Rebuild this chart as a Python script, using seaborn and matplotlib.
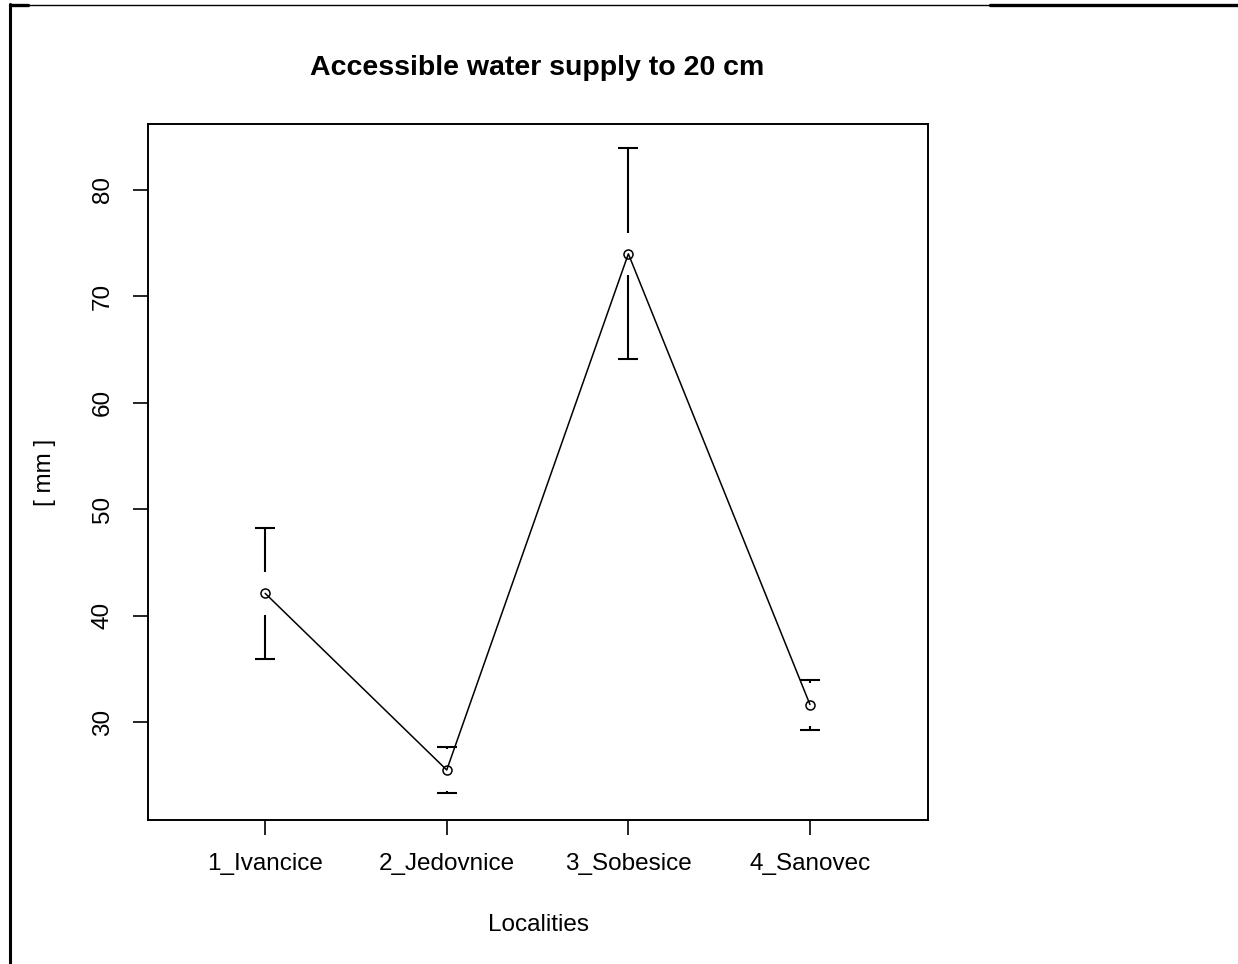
import pandas as pd
import matplotlib
matplotlib.use("Agg")
import matplotlib.pyplot as plt
from matplotlib.lines import Line2D
import seaborn as sns

# values
localities = ["1_Ivancice", "2_Jedovnice", "3_Sobesice", "4_Sanovec"]
means = [42.1, 25.5, 74.0, 31.65]
ci_half = [6.15, 2.15, 9.9, 2.35]

sns.set_style("ticks")
plt.rcParams['font.family'] = ['Liberation Sans', 'DejaVu Sans']
plt.rcParams['text.color'] = 'black'
plt.rcParams['axes.labelcolor'] = 'black'
plt.rcParams['xtick.color'] = 'black'
plt.rcParams['ytick.color'] = 'black'
plt.rcParams['axes.edgecolor'] = 'black'

df = pd.DataFrame({"pos": range(1, len(localities) + 1), "mean": means, "ci": ci_half})

fig = plt.figure(figsize=(12.38, 9.64), dpi=100)
ax = fig.add_axes([148 / 1238, 1 - 820 / 964, 780 / 1238, 696 / 964])

sns.lineplot(data=df, x="pos", y="mean", color="black", linewidth=1.1,
             marker="o", markersize=6.5, markerfacecolor="none",
             markeredgecolor="black", markeredgewidth=1.1, ax=ax)

# error bars with a gap around the mean point (as R's plotmeans)
gap = 2.0
cap = 0.055
for _, r in df.iterrows():
    up, lo = r["mean"] + r["ci"], r["mean"] - r["ci"]
    if r["ci"] > gap:
        ax.vlines(r["pos"], r["mean"] + gap, up, color="black", linewidth=1.5)
        ax.vlines(r["pos"], lo, r["mean"] - gap, color="black", linewidth=1.5)
    ax.hlines([up, lo], r["pos"] - cap, r["pos"] + cap, color="black", linewidth=1.5)

ax.set_xlim(0.355, 4.65)
ax.set_ylim(20.8, 86.2)
ax.set_xticks(df["pos"], localities)
ax.set_yticks([30, 40, 50, 60, 70, 80])
ax.tick_params(axis="y", labelrotation=90, length=10.5, width=1.2, labelsize=17.5, pad=14)
ax.tick_params(axis="x", length=10.5, width=1.2, labelsize=17.5, pad=13)
for lab in ax.get_yticklabels():
    lab.set_va("center")
for s in ax.spines.values():
    s.set_linewidth(1.4)
    s.set_visible(True)

ax.set_xlabel("Localities", fontsize=17.5, labelpad=28)
ax.set_ylabel("[ mm ]", fontsize=17.5, labelpad=26)
fig.text(537 / 1238, 1 - 68 / 964, "Accessible water supply to 20 cm",
         ha="center", va="center", fontsize=20.5, fontweight="bold")

# frame lines from the page the chart was cut from
fig.add_artist(Line2D([10 / 1238, 10 / 1238], [0, 1 - 4 / 964], color="black", linewidth=2.2))
fig.add_artist(Line2D([10 / 1238, 990 / 1238], [1 - 4.5 / 964] * 2, color="black", linewidth=1.0))
fig.add_artist(Line2D([990 / 1238, 1], [1 - 5 / 964] * 2, color="black", linewidth=2.4))
fig.add_artist(Line2D([10 / 1238, 28 / 1238], [1 - 5 / 964] * 2, color="black", linewidth=2.4))

fig.savefig("out.png", dpi=100)
